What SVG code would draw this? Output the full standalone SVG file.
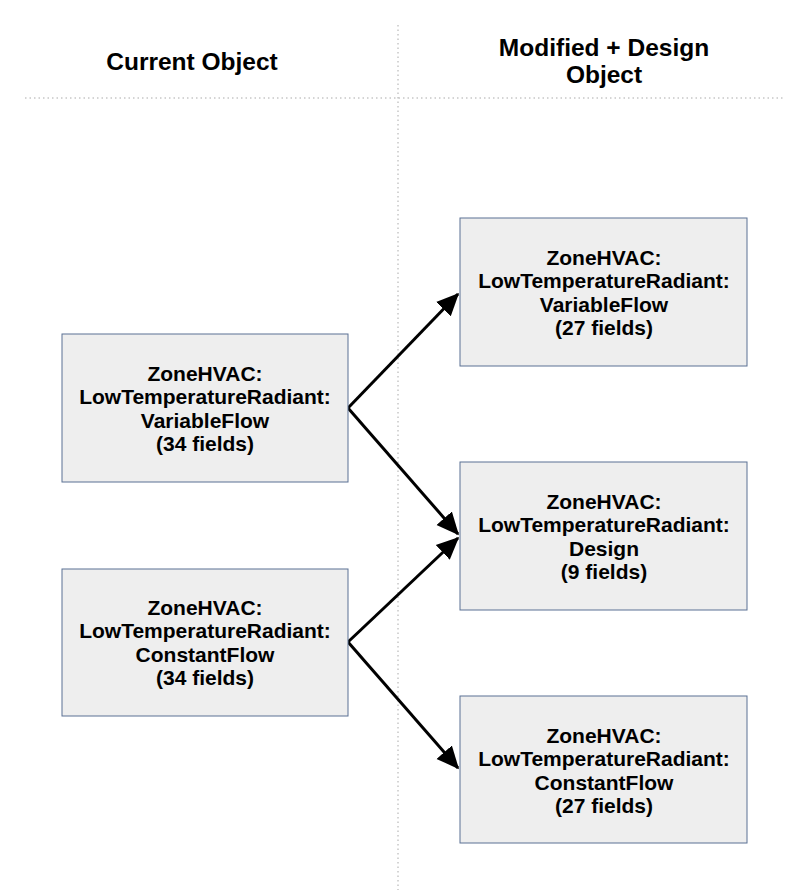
<svg xmlns="http://www.w3.org/2000/svg" width="785" height="890" viewBox="0 0 785 890">
<style>
.box{fill:#eeeeee;stroke:#5a7194;stroke-width:1}
.t{font-family:"Liberation Sans",Arial,sans-serif;font-weight:bold;font-size:21px;text-anchor:middle;fill:#000}
.h{font-family:"Liberation Sans",Arial,sans-serif;font-weight:bold;font-size:24.5px;text-anchor:middle;fill:#000}
.dot{stroke:#aaaaaa;stroke-width:1;stroke-dasharray:1.5,3;fill:none}
.c{stroke:#000;stroke-width:3;fill:none;marker-end:url(#ah)}
</style>
<defs>
<marker id="ah" markerWidth="8" markerHeight="8" refX="7" refY="4" orient="auto" markerUnits="strokeWidth">
<path d="M0,0.6 L7.5,4 L0,7.4 Z" fill="#000"/>
</marker>
</defs>
<rect width="785" height="890" fill="#fff"/>
<g id="grid">
<line class="dot" x1="25" y1="98" x2="785" y2="98"/>
<line class="dot" x1="398" y1="25" x2="398" y2="890"/>
</g>
<g id="headers">
<text class="h" x="192" y="70">Current Object</text>
<text class="h" x="604" y="56">Modified + Design</text>
<text class="h" x="604" y="83">Object</text>
</g>
<g id="connectors">
<path class="c" d="M348,408 L458,294"/>
<path class="c" d="M348,408 L458,534"/>
<path class="c" d="M348,642 L458,538"/>
<path class="c" d="M348,642 L458,768"/>
</g>
<g id="cur-variable">
<rect class="box" x="62" y="334" width="286" height="148"/>
<text class="t" x="205" y="381">ZoneHVAC:</text>
<text class="t" x="205" y="404">LowTemperatureRadiant:</text>
<text class="t" x="205" y="428">VariableFlow</text>
<text class="t" x="205" y="451">(34 fields)</text>
</g>
<g id="cur-constant">
<rect class="box" x="62" y="569" width="286" height="147"/>
<text class="t" x="205" y="615">ZoneHVAC:</text>
<text class="t" x="205" y="638">LowTemperatureRadiant:</text>
<text class="t" x="205" y="662">ConstantFlow</text>
<text class="t" x="205" y="685">(34 fields)</text>
</g>
<g id="new-variable">
<rect class="box" x="460" y="218" width="287" height="148"/>
<text class="t" x="604" y="265">ZoneHVAC:</text>
<text class="t" x="604" y="288">LowTemperatureRadiant:</text>
<text class="t" x="604" y="312">VariableFlow</text>
<text class="t" x="604" y="335">(27 fields)</text>
</g>
<g id="new-design">
<rect class="box" x="460" y="462" width="287" height="148"/>
<text class="t" x="604" y="509">ZoneHVAC:</text>
<text class="t" x="604" y="532">LowTemperatureRadiant:</text>
<text class="t" x="604" y="556">Design</text>
<text class="t" x="604" y="579">(9 fields)</text>
</g>
<g id="new-constant">
<rect class="box" x="460" y="696" width="287" height="147"/>
<text class="t" x="604" y="743">ZoneHVAC:</text>
<text class="t" x="604" y="766">LowTemperatureRadiant:</text>
<text class="t" x="604" y="790">ConstantFlow</text>
<text class="t" x="604" y="813">(27 fields)</text>
</g>
</svg>
